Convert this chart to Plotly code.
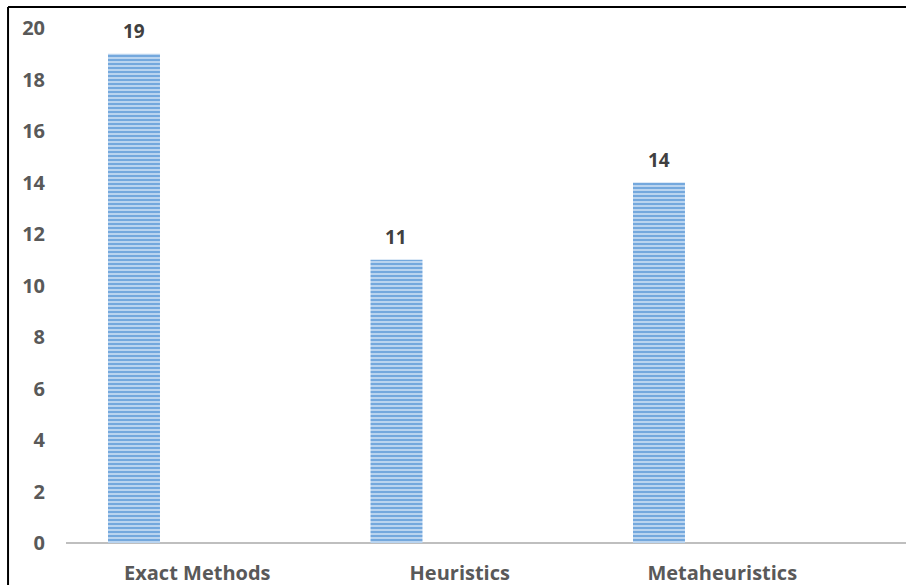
import plotly.graph_objects as go

# Number of studies per solution approach
categories = ["Exact Methods", "Heuristics", "Metaheuristics"]
counts = [19, 11, 14]
y_ticks = [0, 2, 4, 6, 8, 10, 12, 14, 16, 18, 20]

positions = list(range(len(categories)))
bar_width = 0.198
bar_offset = -0.34

fig = go.Figure()
fig.add_trace(go.Bar(
    x=positions,
    y=counts,
    width=bar_width,
    offset=bar_offset,
    marker=dict(
        color="#7AACDF",
        line=dict(width=0),
        pattern=dict(shape="-", fgcolor="#D9E8F7", bgcolor="#74A8DD",
                     size=4, solidity=0.35, fillmode="replace"),
    ),
    hoverinfo="skip",
))

# value labels above each bar
annotations = [
    dict(x=p + bar_offset + bar_width / 2, y=v, xref="x", yref="y",
         text=str(v), showarrow=False, yanchor="middle", yshift=23,
         font=dict(family="Open Sans", size=19, color="#404040", weight="bold"))
    for p, v in zip(positions, counts)
]

tick_font = dict(family="Open Sans", size=20, color="#595959", weight="bold")

fig.update_layout(
    width=906, height=585,
    margin=dict(l=66, r=0, t=28, b=42),
    paper_bgcolor="white",
    plot_bgcolor="white",
    showlegend=False,
    annotations=annotations,
    xaxis=dict(
        range=[-0.5, 2.7],
        tickvals=positions,
        ticktext=categories,
        showgrid=False, zeroline=False,
        showline=False,
        ticks="", ticklabelstandoff=16,
        tickfont=tick_font,
    ),
    yaxis=dict(
        range=[0, 20],
        tickvals=y_ticks,
        showgrid=False,
        zeroline=True, zerolinecolor="#BFBFBF", zerolinewidth=2,
        showline=False,
        ticks="", ticklabelstandoff=20,
        tickfont=tick_font,
    ),
    shapes=[
        # outer frame (top and left edges)
        dict(type="line", xref="paper", yref="paper",
             x0=-0.069, x1=1.0, y0=1.0408, y1=1.0408,
             line=dict(color="black", width=2)),
        dict(type="line", xref="paper", yref="paper",
             x0=-0.069, x1=-0.069, y0=1.0408, y1=-0.09,
             line=dict(color="black", width=2)),
    ],
)

fig.write_html("out.html")
